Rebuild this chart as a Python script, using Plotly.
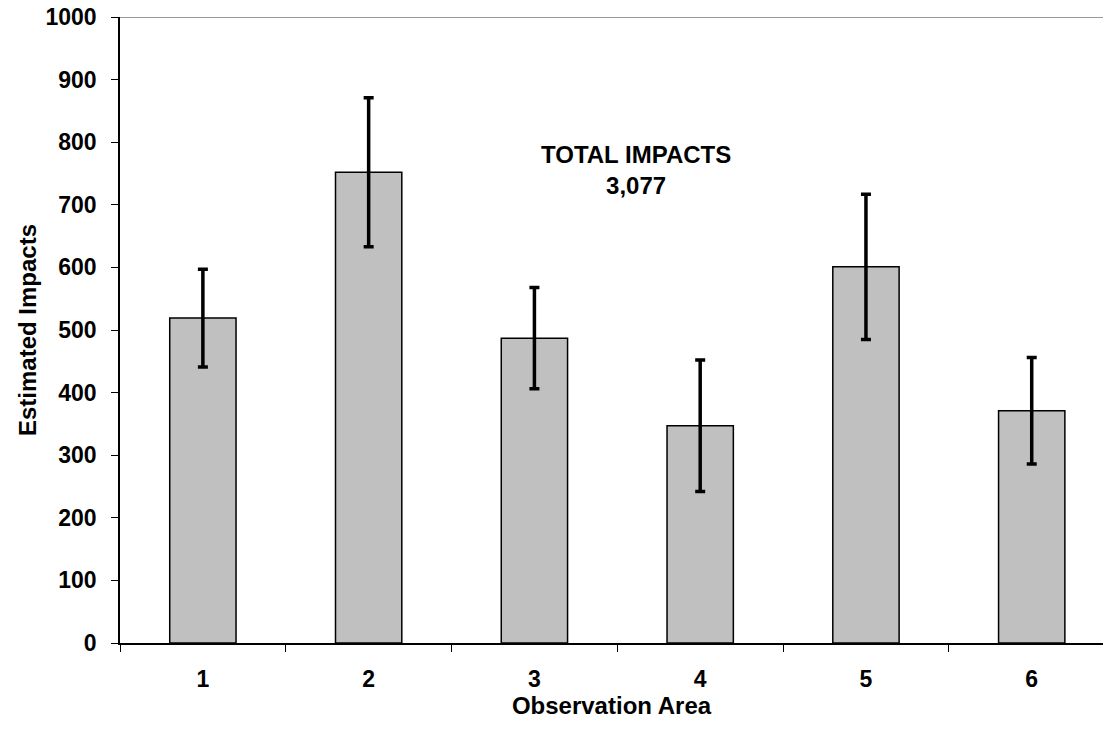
import plotly.graph_objects as go

areas = ["1", "2", "3", "4", "5", "6"]
impacts = [519, 752, 487, 347, 601, 371]
errors = [78, 119, 81, 105, 116, 85]
y_ticks = [0, 100, 200, 300, 400, 500, 600, 700, 800, 900, 1000]
total_label = "TOTAL IMPACTS<br>3,077"

FONT = "Liberation Sans, Arial, sans-serif"

fig = go.Figure()
fig.add_trace(go.Bar(
    x=areas, y=impacts, width=0.4,
    marker=dict(color="#C0C0C0", line=dict(color="black", width=1.5)),
    error_y=dict(type="data", array=errors, visible=True,
                 color="black", thickness=3.5, width=5),
    showlegend=False,
))

fig.update_layout(
    width=1103, height=733,
    margin=dict(l=120, r=0, t=17, b=90),
    paper_bgcolor="white", plot_bgcolor="white",
    font=dict(family=FONT, color="black"),
    bargap=0.6,
    xaxis=dict(
        type="category", range=[-0.5, 5.43],
        tickson="boundaries", ticks="outside", ticklen=7, tickcolor="black",
        showline=True, linecolor="black", linewidth=1.5,
        tickfont=dict(size=23, family=FONT, weight="bold"),
        ticklabelstandoff=15,
        title=dict(text="<b>Observation Area</b>", font=dict(size=24, family=FONT), standoff=4),
        showgrid=False, zeroline=False,
    ),
    yaxis=dict(
        range=[0, 1000], tickvals=y_ticks,
        ticks="outside", ticklen=7, tickcolor="black",
        showline=True, linecolor="black", linewidth=1.5,
        tickfont=dict(size=23, family=FONT, weight="bold"),
        ticklabelstandoff=10, ticklabeloverflow="allow",
        title=dict(text="<b>Estimated Impacts</b>", font=dict(size=24, family=FONT), standoff=2),
        showgrid=False, zeroline=False,
    ),
    annotations=[dict(
        text="<b>" + total_label + "</b>", xref="paper", yref="y",
        x=(636 - 120) / 983, y=756, showarrow=False,
        font=dict(size=24, family=FONT, color="black"), align="center",
    )],
    shapes=[dict(type="line", xref="paper", yref="y", x0=0, x1=1, y0=1000, y1=1000,
                 line=dict(color="#999999", width=2))],
)

fig.write_html("out.html", config={"displayModeBar": False},
               post_script="document.body.style.margin='0px';document.body.style.overflow='hidden';")
